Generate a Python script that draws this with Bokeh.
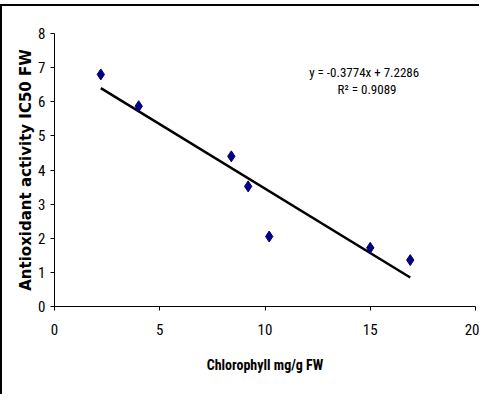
from bokeh.plotting import figure
from bokeh.models import Range1d, FixedTicker, Label
from bokeh.embed import file_html
from bokeh.resources import INLINE

# ---- data ----
chlorophyll = [2.2, 4.0, 8.4, 9.2, 10.2, 15.0, 16.9]      # mg/g FW
ic50 = [6.80, 5.87, 4.40, 3.52, 2.05, 1.72, 1.36]        # antioxidant activity IC50 FW
slope = -0.3774
intercept = 7.2286
r_squared = 0.9089
x_ticks = [0, 5, 10, 15, 20]
y_ticks = [0, 1, 2, 3, 4, 5, 6, 7, 8]

NARROW = "Roboto Condensed"
WIDE_BOLD = "DejaVu Sans"

W, H = 479, 390
p = figure(width=W, height=H,
           x_range=Range1d(0, 20), y_range=Range1d(0, 8),
           output_backend="svg", toolbar_location=None,
           min_border_left=52, min_border_right=6,
           min_border_top=27, min_border_bottom=90)
p.styles = {"border-left": "2px solid black", "border-top": "2px solid black",
            "margin-top": "4px"}

p.xgrid.visible = False
p.ygrid.visible = False
p.outline_line_color = None
p.background_fill_color = "white"
p.border_fill_color = "white"

for ax in (p.xaxis, p.yaxis):
    ax.axis_line_color = "black"
    ax.axis_line_width = 1
    ax.major_tick_line_color = "black"
    ax.major_tick_in = 0
    ax.major_tick_out = 4
    ax.minor_tick_line_color = None
    ax.major_label_text_font = NARROW
    ax.major_label_text_font_size = "15px"
    ax.major_label_text_color = "black"
    ax.axis_label_text_color = "black"
    ax.axis_label_text_font_style = "bold"

p.xaxis.ticker = FixedTicker(ticks=x_ticks)
p.yaxis.ticker = FixedTicker(ticks=y_ticks)
p.xaxis.major_label_standoff = 13
p.yaxis.major_label_standoff = 5

p.xaxis.axis_label = "Chlorophyll mg/g FW"
p.xaxis.axis_label_text_font = NARROW
p.xaxis.axis_label_text_font_size = "14px"
p.xaxis.axis_label_standoff = 19

p.yaxis.axis_label = "Antioxidant activity IC50 FW"
p.yaxis.axis_label_text_font = WIDE_BOLD
p.yaxis.axis_label_text_font_size = "15px"
p.yaxis.axis_label_standoff = 0

# trend line from the fitted equation over the data range
tx = [min(chlorophyll), max(chlorophyll)]
ty = [slope * v + intercept for v in tx]
p.line(tx, ty, line_color="black", line_width=2.5)

p.scatter(chlorophyll, ic50, marker="diamond", size=11,
          fill_color="#000080", line_color="#000080")

eq1 = Label(x=12.1, y=6.86, text=f"y = {slope}x + {intercept}",
            text_align="left", text_baseline="middle",
            text_font=NARROW, text_font_size="13px", text_color="black")
eq2 = Label(x=13.45, y=6.35, text=f"R² = {r_squared}",
            text_align="left", text_baseline="middle",
            text_font=NARROW, text_font_size="13px", text_color="black")
p.add_layout(eq1)
p.add_layout(eq2)

open("out.html", "w").write(file_html(p, INLINE))
